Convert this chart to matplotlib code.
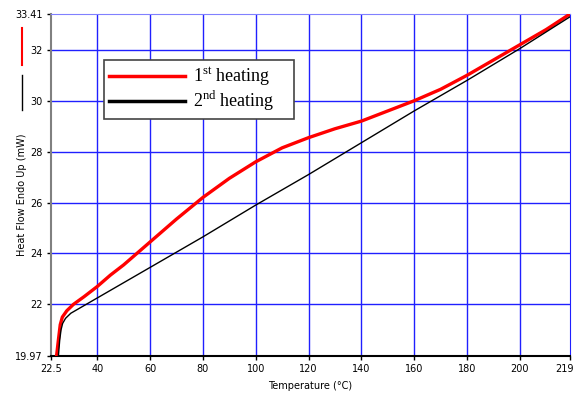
import matplotlib.pyplot as plt
import matplotlib.transforms as mtransforms
from matplotlib.lines import Line2D

plt.rcParams['mathtext.fontset'] = 'custom'
plt.rcParams['mathtext.rm'] = 'Liberation Serif'

# 1st heating (red)
temp1 = [24.6, 25.3, 26.0, 26.8, 28.5, 31.0, 35.0, 40.0, 45.0, 50.0, 55.0, 60.0, 70.0, 80.0,
         90.0, 100.0, 110.0, 120.0, 130.0, 140.0, 150.0, 160.0, 170.0, 180.0, 190.0, 200.0, 210.0, 219.0]
heat1 = [19.97, 20.6, 21.2, 21.5, 21.75, 22.0, 22.3, 22.7, 23.15, 23.55, 24.0, 24.45, 25.35, 26.2,
         26.95, 27.6, 28.15, 28.55, 28.9, 29.2, 29.6, 30.0, 30.45, 31.0, 31.6, 32.2, 32.8, 33.41]

# 2nd heating (black)
temp2 = [25.3, 25.8, 26.3, 26.9, 28.0, 30.0, 35.0, 40.0, 50.0, 60.0, 80.0, 100.0, 120.0, 140.0,
         160.0, 180.0, 200.0, 219.0]
heat2 = [19.97, 20.6, 21.0, 21.25, 21.45, 21.65, 21.95, 22.25, 22.85, 23.45, 24.65, 25.9, 27.1, 28.35,
         29.6, 30.8, 32.05, 33.3]

xticks = [22.5, 40, 60, 80, 100, 120, 140, 160, 180, 200, 219]
xticklabels = ['22.5', '40', '60', '80', '100', '120', '140', '160', '180', '200', '219']
yticks = [19.97, 22, 24, 26, 28, 30, 32, 33.41]
yticklabels = ['19.97', '22', '24', '26', '28', '30', '32', '33.41']

fig = plt.figure(figsize=(5.73, 3.96), dpi=100)
ax = fig.add_axes([51 / 573, 1 - 356 / 396, (570 - 51) / 573, (356 - 14) / 396])

for x in xticks[1:-1]:
    ax.axvline(x, color='#2020ff', lw=1, zorder=1)
for y in yticks[1:-1]:
    ax.axhline(y, color='#2020ff', lw=1, zorder=1)

ax.plot(temp1, heat1, color='red', lw=2.4, zorder=3, label=r'1$^{\mathrm{st}}$ heating    ')
ax.plot(temp2, heat2, color='black', lw=1.0, zorder=3, label=r'2$^{\mathrm{nd}}$ heating    ')

ax.set_xlim(22.5, 219)
ax.set_ylim(19.97, 33.41)
ax.set_xticks(xticks)
ax.set_xticklabels(xticklabels)
ax.set_yticks(yticks)
ax.set_yticklabels(yticklabels)
ax.tick_params(labelsize=7, length=3, width=1, colors='black', pad=3)

# the last x label sits a little left of its tick so it stays inside the figure
last = ax.get_xticklabels()[-1]
last.set_transform(last.get_transform() + mtransforms.ScaledTranslation(-6 / 100, 0, fig.dpi_scale_trans))

ax.spines['left'].set_color('gray')
ax.spines['left'].set_linewidth(1.5)
ax.spines['bottom'].set_color('black')
ax.spines['bottom'].set_linewidth(1.5)
ax.spines['top'].set_color('#8080ff')
ax.spines['right'].set_color('#2020ff')

ax.set_xlabel('Temperature (°C)', fontsize=7, labelpad=5)
fig.text(22 / 573, 1 - 195 / 396, 'Heat Flow Endo Up (mW)', rotation=90, fontsize=7,
         ha='center', va='center')
fig.add_artist(Line2D([22 / 573, 22 / 573], [1 - 28 / 396, 1 - 65 / 396], color='red', lw=1.5))
fig.add_artist(Line2D([22 / 573, 22 / 573], [1 - 75 / 396, 1 - 110 / 396], color='black', lw=1))

leg = ax.legend(loc='upper left', bbox_to_anchor=((104 - 51) / 519, (356 - 60) / 342),
                prop={'family': 'Liberation Serif', 'size': 13}, frameon=True, fancybox=False,
                framealpha=1, edgecolor='#444444', handlelength=4.2, borderpad=0.3,
                labelspacing=0.05, handletextpad=0.45, borderaxespad=0)
leg.get_frame().set_linewidth(1.2)
for h in leg.get_lines():
    h.set_linewidth(2.5)

fig.savefig('out.png', dpi=100)
